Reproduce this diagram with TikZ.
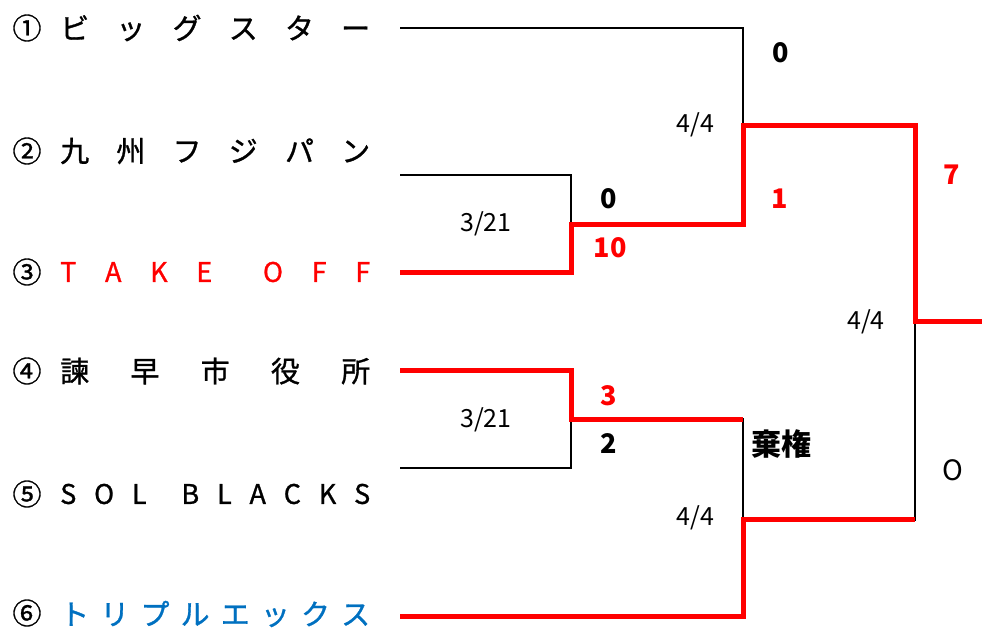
\documentclass[tikz,border=0pt]{standalone}
\usepackage{fontspec}
\setmainfont{Noto Sans CJK JP}
\newfontfamily\heavyfont{Noto Sans CJK JP}[FakeBold=1]
\definecolor{winred}{RGB}{255,0,0}
\definecolor{teamblue}{RGB}{0,112,192}
\newcommand\spreadname[1]{\makebox[310pt][s]{#1}}
\begin{document}
\begin{tikzpicture}[x=1pt,y=-1pt,
  blk/.style={line width=2.5pt,black},
  win/.style={line width=5pt,winred,line join=miter},
  seed/.style={inner sep=0pt,font=\heavyfont\fontsize{29}{29}\selectfont},
  tname/.style={inner sep=0pt,anchor=west,font=\heavyfont\fontsize{29}{29}\selectfont},
  lname/.style={inner sep=0pt,anchor=west,font=\heavyfont\fontsize{27}{27}\selectfont},
  score/.style={inner sep=0pt,font=\bfseries\fontsize{27}{27}\selectfont},
  gdate/.style={inner sep=0pt,font=\fontsize{25}{25}\selectfont}]
\useasboundingbox (0,0) rectangle (982,629);

% seeds and team names
\node[seed] (n1) at (27,28) {①};
\node[seed] (n2) at (27,151) {②};
\node[seed] (n3) at (27,272) {③};
\node[seed] (n4) at (27,371) {④};
\node[seed] (n5) at (27,494) {⑤};
\node[seed] (n6) at (27,613) {⑥};
\node[tname] (a1) at (60,28) {\spreadname{ビ\hfill ッ\hfill グ\hfill ス\hfill タ\hfill ー}};
\node[tname] (a2) at (60,151) {\spreadname{九\hfill 州\hfill フ\hfill ジ\hfill パ\hfill ン}};
\node[lname,text=winred] (a3) at (60,272) {\spreadname{T\hfill A\hfill K\hfill E\hspace{22pt}\hfill O\hfill F\hfill F}};
\node[tname] (a4) at (60,371) {\spreadname{諫\hfill 早\hfill 市\hfill 役\hfill 所}};
\node[lname] (a5) at (60,494) {\spreadname{S\hfill O\hfill L\hspace{17pt}\hfill B\hfill L\hfill A\hfill C\hfill K\hfill S}};
\node[tname,text=teamblue] (a6) at (60,614) {\spreadname{ト\hfill リ\hfill プ\hfill ル\hfill エ\hfill ッ\hfill ク\hfill ス}};

% bracket points
\coordinate (t1) at (400,28);
\coordinate (t2) at (400,175);
\coordinate (t3) at (400,272);
\coordinate (t4) at (400,370.5);
\coordinate (t5) at (400,468);
\coordinate (t6) at (400,616.5);
\coordinate (m23) at (571,224);
\coordinate (m45) at (571,419.5);
\coordinate (s1) at (743,125.5);
\coordinate (s2) at (743,519.5);
\coordinate (f) at (915,321.5);
\coordinate (w) at (982,321.5);

% black lines
\draw[blk] (t1) -| (s1);
\draw[blk] (t2) -| (m23);
\draw[blk] (t5) -| (m45);
\draw[blk] (m45) -| (s2);
\draw[blk] (s2) -| (f);

% winners' path
\draw[win] (t3) -| (m23) -| (s1) -| (f) -- (w);
\draw[win] (t4) -| (m45) -- (m45 -| s2);
\draw[win] (t6) -| (s2) -- (s2 -| f);

% scores and dates
\node[score] (sc1) at (781,52.5) {0};
\node[gdate] (d1) at (695.5,125) {4/4};
\node[score] (sc2) at (609,199) {0};
\node[gdate] (d2) at (486,224) {3/21};
\node[score,text=winred] (sc3) at (610,248) {10};
\node[score,text=winred] (sc4) at (780,199) {1};
\node[score,text=winred] (sc5) at (952,175) {7};
\node[gdate] (d3) at (866,322) {4/4};
\node[score,text=winred] (sc6) at (609,396) {3};
\node[gdate] (d4) at (486,420) {3/21};
\node[score] (sc7) at (609,444) {2};
\node[score,font=\bfseries\fontsize{30}{30}\selectfont] (fk) at (781.5,444) {棄権};
\node[inner sep=0pt,font=\fontsize{28}{28}\selectfont] (sc8) at (953,470) {O};
\node[gdate] (d5) at (695.5,518) {4/4};
\end{tikzpicture}
\end{document}
